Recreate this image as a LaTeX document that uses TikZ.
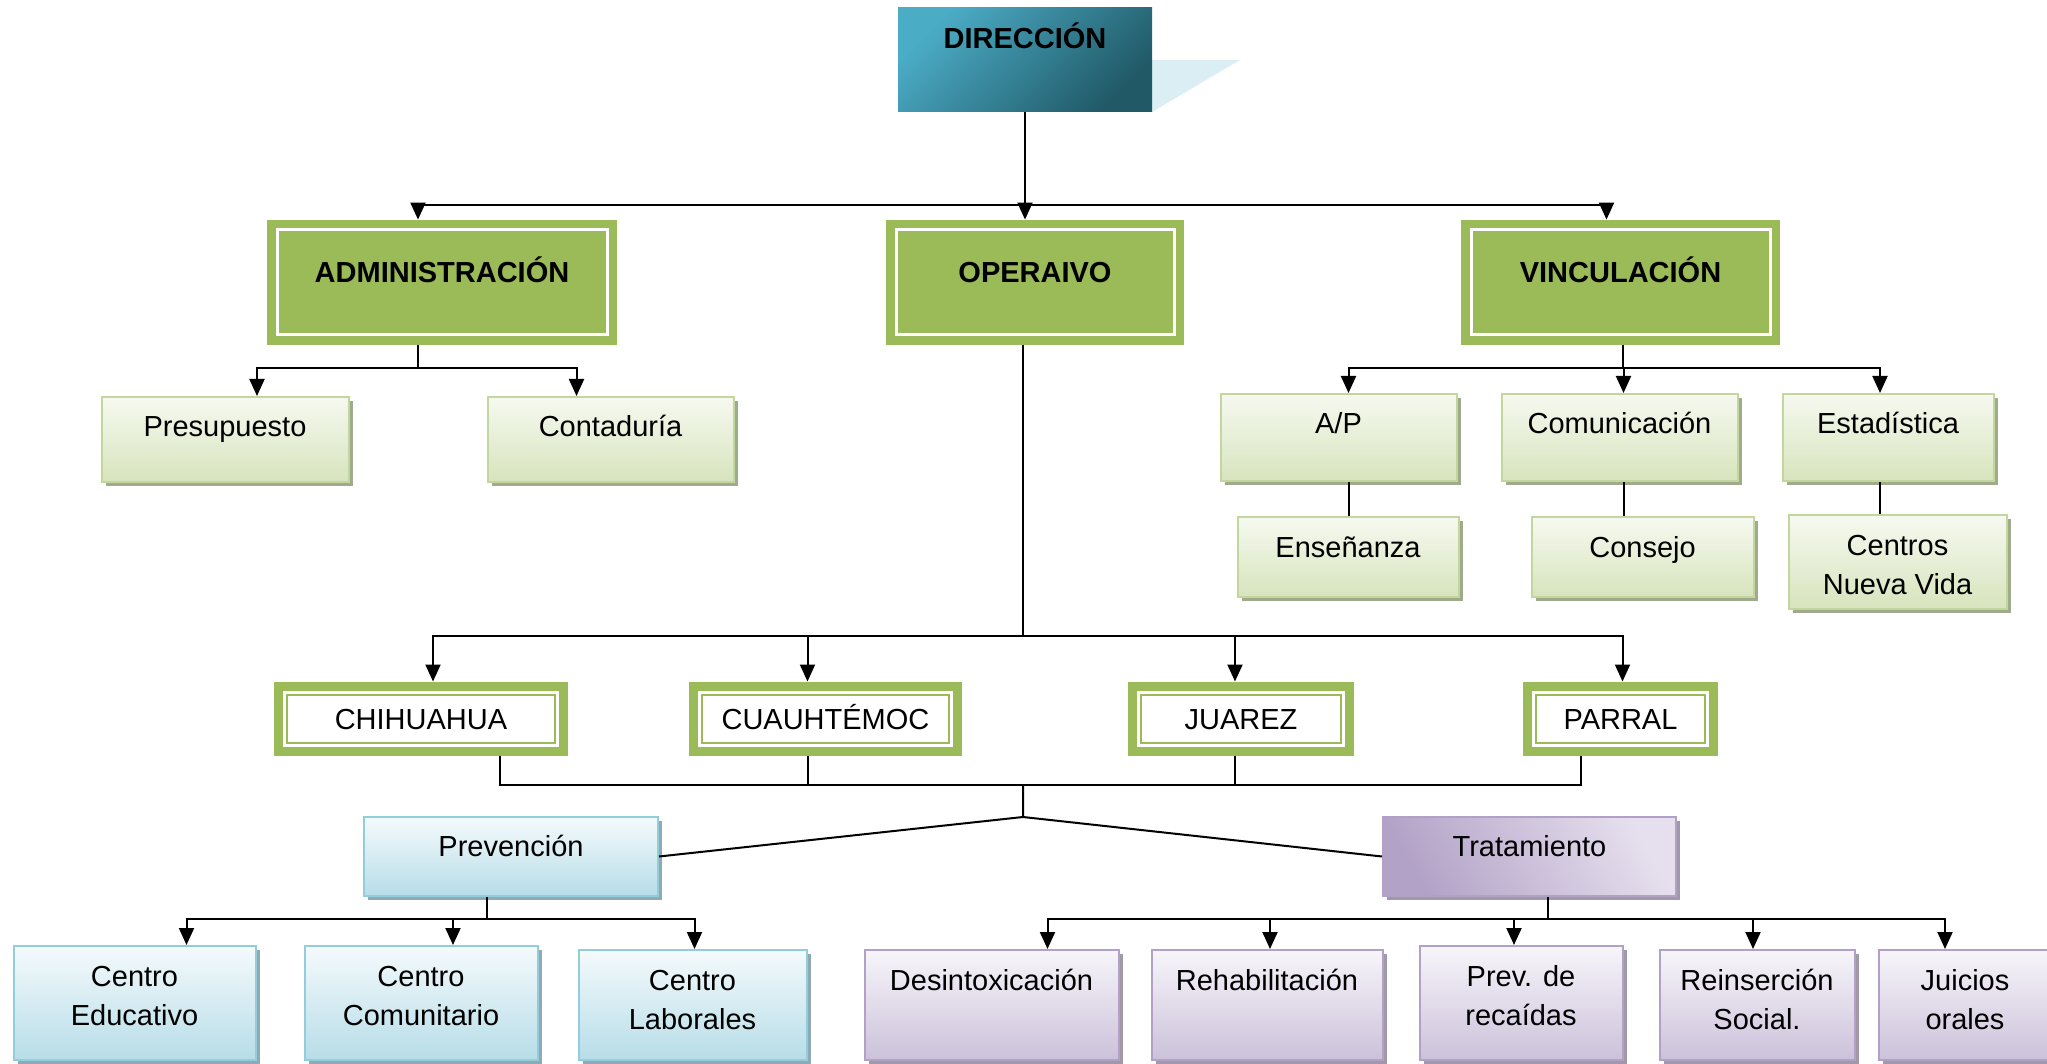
\documentclass[tikz,border=0pt]{standalone}
\usepackage{fontspec}
\setmainfont{Liberation Sans}
\usetikzlibrary{arrows.meta,shadows}

\definecolor{grn}{HTML}{9BBB59}
\definecolor{grnline}{HTML}{C3D69B}
\definecolor{grntop}{HTML}{F6F9F0}
\definecolor{grnbot}{HTML}{D7E4BD}
\definecolor{grnshad}{HTML}{A0AA8C}
\definecolor{bluline}{HTML}{92CDDC}
\definecolor{blutop}{HTML}{F4FAFC}
\definecolor{blubot}{HTML}{B7DDE8}
\definecolor{blushad}{HTML}{8FAAB2}
\definecolor{purline}{HTML}{B2A1C7}
\definecolor{purtop}{HTML}{F7F5FA}
\definecolor{purbot}{HTML}{CCC1DA}
\definecolor{purshad}{HTML}{A09AA8}
\definecolor{purdark}{HTML}{B3A2C7}
\definecolor{purlight}{HTML}{E6E0EE}
\definecolor{dirA}{HTML}{4BACC6}
\definecolor{dirB}{HTML}{215967}
\definecolor{dirtri}{HTML}{DAEEF3}

\newcommand{\boxfont}{\fontsize{14.5pt}{19.5pt}\selectfont}

\begin{document}
\begin{tikzpicture}[x=0.5pt,y=-0.5pt,font=\boxfont]
  \tikzstyle{link}=[line width=1pt]
  \tikzstyle{arr}=[link,-{Triangle[length=8.5pt,width=7.5pt]}]
  \tikzstyle{dirbox}=[top color=dirA,bottom color=dirB,shading angle=45,inner sep=0pt,
    font=\boxfont\bfseries,text height=20.5pt,text depth=31.5pt]
  \tikzstyle{head}=[fill=grn,inner sep=0pt,font=\boxfont\bfseries,text height=31.5pt,text depth=31pt,
    path picture={\draw[white,line width=1.5pt]
      ([shift={(5pt,-5pt)}]path picture bounding box.north west) rectangle
      ([shift={(-5pt,5pt)}]path picture bounding box.south east);}]
  \tikzstyle{city}=[draw=grn,line width=4.5pt,fill=white,inner sep=0pt,text height=10.5pt,text depth=0pt,
    path picture={\draw[grn,line width=1pt]
      ([shift={(4.25pt,-4.25pt)}]path picture bounding box.north west) rectangle
      ([shift={(-4.25pt,4.25pt)}]path picture bounding box.south east);}]
  \tikzstyle{leaf}=[line width=1pt,inner sep=0pt,align=center]
  \tikzstyle{leafg}=[leaf,draw=grnline,top color=grntop,bottom color=grnbot,
    drop shadow={shadow xshift=2pt,shadow yshift=-2pt,fill=grnshad,opacity=1}]
  \tikzstyle{leafb}=[leaf,draw=bluline,top color=blutop,bottom color=blubot,
    drop shadow={shadow xshift=2pt,shadow yshift=-2pt,fill=blushad,opacity=1}]
  \tikzstyle{leafp}=[leaf,draw=purline,top color=purtop,bottom color=purbot,
    drop shadow={shadow xshift=2pt,shadow yshift=-2pt,fill=purshad,opacity=1}]
  \tikzstyle{leaft}=[leaf,draw=purline,top color=purlight,bottom color=purdark,shading angle=-60,
    drop shadow={shadow xshift=2pt,shadow yshift=-2pt,fill=purshad,opacity=1}]

  \useasboundingbox (0,0) rectangle (2047,1064);

  % top
  \fill[dirtri] (1152,60) -- (1240,60) -- (1152,112) -- cycle;
  \node[dirbox,minimum width=127pt,minimum height=52pt] (dir) at (1025,60) {DIRECCIÓN};

  \foreach \name/\x/\w/\lbl in {admin/442/350/ADMINISTRACIÓN, oper/1035/298/OPERAIVO, vinc/1620.5/319/VINCULACIÓN}
    \node[head,minimum width=\w*0.5pt,minimum height=62.5pt] (\name) at (\x,282.5) {\lbl};

  % \n = lines of text
  \foreach \name/\x/\y/\w/\h/\n/\lbl in {pres/225/439.5/247/85/1/Presupuesto, cont/610.5/439.5/246/85/1/Contaduría,
      ap/1338.5/437.5/236/87/1/{A/P}, comu/1619.5/437.5/236/87/1/Comunicación, esta/1888/437.5/211/87/1/Estadística,
      ense/1348/557/221/80/1/Enseñanza, cons/1642.5/557/222/80/1/Consejo, cnv/1897.5/562/218/94/2/{Centros\\Nueva Vida}}
    \node[leafg,minimum width=\w*0.5pt,minimum height=\h*0.5pt,
      text height=20pt+(\n-1)*19.5pt,text depth=\h*0.5pt-20pt-(\n-1)*19.5pt] (\name) at (\x,\y) {\lbl};

  % cities
  \foreach \name/\x/\w/\lbl in {chih/421/294/CHIHUAHUA, cuau/825.5/273/CUAUHTÉMOC, juar/1241/226/JUAREZ, parr/1620.5/195/PARRAL}
    \node[city,minimum width=(\w-9)*0.5pt,minimum height=32.5pt] (\name) at (\x,718.5) {\lbl};

  % bottom
  \node[leafb,minimum width=147pt,minimum height=39.5pt,text height=19.5pt,text depth=20pt] (prev) at (511,856.5) {Prevención};
  \node[leaft,minimum width=146.5pt,minimum height=39.5pt,text height=19.5pt,text depth=20pt] (trat) at (1529.5,856.5) {Tratamiento};

  \foreach \name/\x/\y/\w/\h/\lbl in {ced/134.5/1003/242/114/{Centro\\Educativo}, ccom/421/1003/233/114/{Centro\\Comunitario},
      clab/692.5/1005/228/110/{Centro\\Laborales}}
    \node[leafb,minimum width=\w*0.5pt,minimum height=\h*0.5pt,
      text height=39.5pt,text depth=\h*0.5pt-39.5pt] (\name) at (\x,\y) {\lbl};

  \foreach \name/\x/\y/\w/\h/\n/\lbl in {desi/991.5/1005/254/110/1/Desintoxicación, reha/1267/1005/231/110/1/Rehabilitación,
      prde/1521/1003/203/114/2/{Prev. de\\recaídas}, rein/1757/1005/195/110/2/{Reinserción\\Social.},
      juic/1965/1005/172/110/2/{Juicios\\orales}}
    \node[leafp,minimum width=\w*0.5pt,minimum height=\h*0.5pt,
      text height=20pt+(\n-1)*19.5pt,text depth=\h*0.5pt-20pt-(\n-1)*19.5pt] (\name) at (\x,\y) {\lbl};

  % connectors
  \coordinate (j0) at (1025,205);
  \draw[link] (dir.south) -- (j0);
  \foreach \t/\s in {admin/-12pt, oper/-5pt, vinc/-7pt}
    { \draw[arr] (j0) -| ([xshift=\s]\t.north); }

  \coordinate (j1) at (418,368);
  \draw[link] (admin.south -| j1) -- (j1);
  \foreach \t/\s in {pres/16pt, cont/-17pt}
    { \draw[arr] (j1) -| ([xshift=\s]\t.north); }

  \coordinate (j2) at (1623,368);
  \draw[link] (vinc.south -| j2) -- (j2);
  \foreach \t/\s in {ap/5pt, comu/2pt, esta/-4pt}
    { \draw[arr] (j2) -| ([xshift=\s]\t.north); }
  \foreach \a/\b/\s in {ap/ense/5pt, comu/cons/2pt, esta/cnv/-4pt}
    { \draw[link] ([xshift=\s]\a.south) -- ([xshift=\s]\a.south |- \b.north); }

  \coordinate (j3) at (1023,636);
  \draw[link] (oper.south -| j3) -- (j3);
  \foreach \t/\s in {chih/6pt, cuau/-9pt, juar/-3pt, parr/1pt}
    { \draw[arr] (j3) -| ([xshift=\s]\t.north); }

  \coordinate (j4) at (1023,785);
  \draw[link] ([xshift=39.5pt]chih.south) |- (j4) -| ([xshift=-20pt]parr.south);
  \foreach \t/\s in {cuau/-9pt, juar/-3pt}
    { \draw[link] ([xshift=\s]\t.south) -- ([xshift=\s]\t.south |- j4); }

  \coordinate (j5) at (1023,817);
  \draw[link] (j4) -- (j5) -- (prev.east);
  \draw[link] (j5) -- (trat.west);

  \coordinate (j6) at (487,919);
  \draw[link] (prev.south -| j6) -- (j6);
  \foreach \t/\s in {ced/26pt, ccom/16pt, clab/1pt}
    { \draw[arr] (j6) -| ([xshift=\s]\t.north); }

  \coordinate (j7) at (1548,919);
  \draw[link] (trat.south -| j7) -- (j7);
  \foreach \t/\s in {desi/28pt, reha/1.5pt, prde/-3.5pt, rein/-2pt, juic/-10pt}
    { \draw[arr] (j7) -| ([xshift=\s]\t.north); }
\end{tikzpicture}
\end{document}
